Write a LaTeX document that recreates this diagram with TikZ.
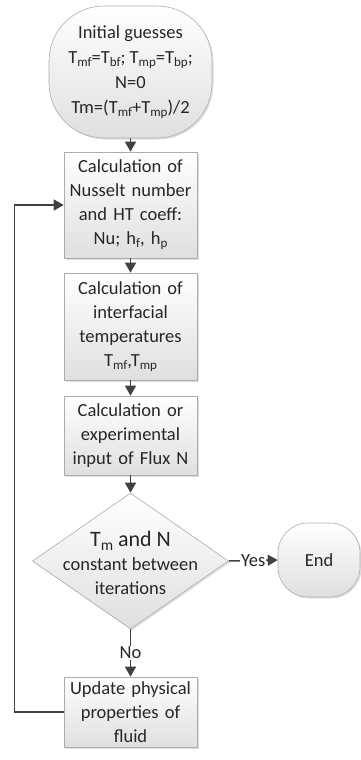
\documentclass[tikz,border=0pt]{standalone}
\usepackage{fontspec}
\setmainfont{Carlito}
\usetikzlibrary{shapes.geometric,arrows.meta,shadows,calc}
\newcommand\sbx[1]{\raisebox{-0.35ex}{\fontsize{13}{13}\selectfont #1}}
\newcommand\sbxl[1]{\raisebox{-0.35ex}{\fontsize{15.5}{15.5}\selectfont #1}}
\begin{document}
\begin{tikzpicture}[x=1pt,y=-1pt,
  every node/.style={font=\fontsize{18.5}{24}\selectfont, text=black!85},
  boxbase/.style={draw=gray!65, line width=0.6pt, top color=white, bottom color=gray!25,
    drop shadow={shadow xshift=1.5pt,shadow yshift=-1.5pt,opacity=0.25}},
  procbox/.style={boxbase, rectangle, minimum width=133pt, inner sep=0pt, align=center, text width=133pt},
  flow/.style={draw=black!75, line width=1.5pt, -{Triangle[length=10pt,width=11pt]}},
  lbl/.style={fill=white, inner sep=1pt},
]
\useasboundingbox (0,0) rectangle (361,760);

\node[boxbase, rounded corners=55pt, minimum width=163pt, minimum height=132pt, inner sep=0pt,
  align=center, font=\fontsize{18.5}{25}\selectfont] (start) at (130.5,72)
  {Initial guesses\\ T\sbx{mf}=T\sbx{bf}; T\sbx{mp}=T\sbx{bp};\\ N=0\\ Tm=(T\sbx{mf}+T\sbx{mp})/2};

\node[procbox, minimum height=106pt] (nus) at (130.5,205)
  {Calculation of\\ Nusselt number\\ and HT coeff:\\ Nu; h\sbx{f}, h\sbx{p}};

\node[procbox, minimum height=107pt] (intf) at (130.5,326.5)
  {Calculation of\\ interfacial\\ temperatures\\ T\sbx{mf},T\sbx{mp}};

\node[procbox, minimum height=79pt] (flux) at (130.5,435.5)
  {Calculation or\\ experimental\\ input of Flux N};

\node[boxbase, diamond, minimum width=196pt, minimum height=136pt, inner sep=0pt, aspect=1.44] (dec) at (130.5,561) {};
\node[align=center] (declbl) at (130.5,563)
  {{\fontsize{22}{24}\selectfont T\sbxl{m} and N}\\ constant between\\ iterations};

\node[boxbase, rounded corners=30pt, minimum width=82pt, minimum height=74pt, inner sep=0pt] (end) at (319,560) {End};

\node[procbox, minimum height=70pt] (upd) at (130.5,712)
  {Update physical\\ properties of\\ fluid};

\draw[flow] (start.south) -- (nus.north);
\draw[flow] (nus.south) -- (intf.north);
\draw[flow] (intf.south) -- (flux.north);
\draw[flow] (flux.south) -- (dec.north);
\draw[flow] (dec.east) -- node[lbl] (yes) {Yes} (end.west);
\draw[flow] (dec.south) -- node[lbl] (no) {No} (upd.north);
\draw[flow] (upd.west) -- ++(-49,0) |- (nus.west);
\end{tikzpicture}
\end{document}
